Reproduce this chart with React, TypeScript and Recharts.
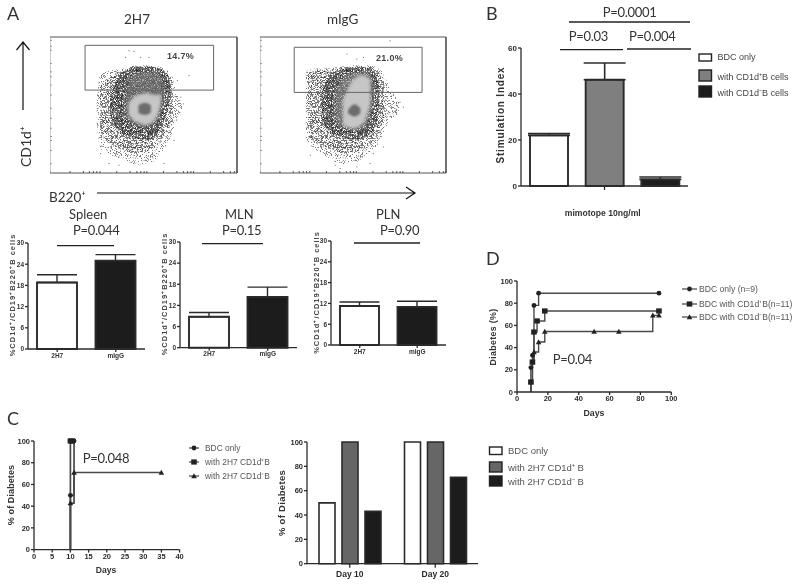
import React from 'react';
import { BarChart, Bar, Cell, ErrorBar, XAxis, YAxis, ComposedChart, Line, Area, Scatter, ReferenceArea } from 'recharts';

// ---------- Panel A: flow plots (channel units, envelopes)
const flowTicksX = [0, 60, 100, 118, 130, 140, 150, 200, 240, 260, 272, 282, 290, 340, 380, 400, 412, 422, 430, 480, 520, 540, 552, 560];
const flowTicksY = [28, 68, 98, 110, 135, 165, 195, 235, 265, 290, 305, 330, 370, 382, 400];
const leftOuter = [{ x: 140, b: [150, 220] }, { x: 150, b: [75, 295] }, { x: 180, b: [55, 308] }, { x: 220, b: [40, 315] }, { x: 260, b: [25, 325] }, { x: 300, b: [30, 325] }, { x: 340, b: [70, 315] }, { x: 365, b: [120, 295] }, { x: 380, b: [160, 240] }, { x: 395, b: [180, 220] }];
const leftHalo = [{ x: 150, b: [120, 260] }, { x: 180, b: [90, 290] }, { x: 220, b: [70, 310] }, { x: 260, b: [60, 322] }, { x: 300, b: [70, 322] }, { x: 340, b: [110, 310] }, { x: 365, b: [160, 280] }];
const leftDark = [{ x: 180, b: [165, 228] }, { x: 205, b: [130, 290] }, { x: 235, b: [110, 312] }, { x: 290, b: [100, 320] }, { x: 330, b: [130, 315] }, { x: 355, b: [200, 290] }, { x: 362, b: [220, 250] }];
const leftMid = [{ x: 225, b: [170, 230] }, { x: 245, b: [150, 295] }, { x: 280, b: [140, 305] }, { x: 320, b: [155, 300] }, { x: 340, b: [210, 280] }];
const leftLight = [{ x: 235, b: [175, 210] }, { x: 260, b: [152, 235] }, { x: 290, b: [145, 240] }, { x: 320, b: [170, 235] }, { x: 332, b: [210, 240] }];
const leftCore = [{ x: 265, b: [180, 205] }, { x: 285, b: [175, 212] }, { x: 302, b: [182, 205] }];
const leftStray = [{ x: 225, y: 350 }, { x: 235, y: 370 }, { x: 250, y: 368 }, { x: 270, y: 350 }, { x: 295, y: 350 }, { x: 415, y: 295 }, { x: 380, y: 280 }, { x: 390, y: 230 }, { x: 398, y: 210 }, { x: 150, y: 60 }, { x: 175, y: 30 }, { x: 205, y: 50 }, { x: 205, y: 25 }, { x: 340, y: 30 }, { x: 310, y: 55 }, { x: 370, y: 100 }, { x: 355, y: 105 }];
const rightOuter = [{ x: 138, b: [100, 305] }, { x: 160, b: [75, 315] }, { x: 200, b: [50, 315] }, { x: 240, b: [30, 320] }, { x: 280, b: [30, 325] }, { x: 320, b: [55, 325] }, { x: 360, b: [95, 315] }, { x: 380, b: [140, 280] }, { x: 420, b: [180, 210] }];
const rightHalo = [{ x: 145, b: [110, 300] }, { x: 175, b: [85, 310] }, { x: 220, b: [70, 313] }, { x: 260, b: [60, 318] }, { x: 310, b: [70, 322] }, { x: 350, b: [110, 312] }, { x: 375, b: [170, 270] }];
const rightDark = [{ x: 185, b: [160, 240] }, { x: 210, b: [125, 295] }, { x: 240, b: [110, 310] }, { x: 280, b: [100, 317] }, { x: 320, b: [110, 317] }, { x: 350, b: [150, 300] }, { x: 360, b: [200, 250] }];
const rightMid = [{ x: 225, b: [155, 240] }, { x: 260, b: [135, 295] }, { x: 290, b: [130, 302] }, { x: 320, b: [145, 302] }, { x: 340, b: [200, 280] }];
const rightLight = [{ x: 250, b: [145, 220] }, { x: 280, b: [135, 280] }, { x: 310, b: [150, 295] }, { x: 332, b: [210, 280] }];
const rightCore = [{ x: 265, b: [180, 190] }, { x: 285, b: [170, 207] }, { x: 302, b: [180, 195] }];
const rightStray = [{ x: 390, y: 400 }, { x: 260, y: 360 }, { x: 290, y: 345 }, { x: 310, y: 350 }, { x: 400, y: 235 }, { x: 420, y: 215 }, { x: 410, y: 180 }, { x: 430, y: 200 }, { x: 150, y: 55 }, { x: 225, y: 25 }, { x: 240, y: 15 }, { x: 250, y: 30 }, { x: 290, y: 20 }, { x: 330, y: 30 }, { x: 370, y: 80 }, { x: 340, y: 60 }];

// ---------- Panel A: lymph node bars
const groupsA = ['2H7', 'mIgG'];
const spleenValues = [18.8, 25];
const spleenErrors = [2.2, 1.7];
const mlnValues = [8.8, 14.4];
const mlnErrors = [1.2, 2.8];
const plnValues = [11.25, 11];
const plnErrors = [1.15, 1.6];
const ticksA = [0, 6, 12, 18, 24, 30];

// ---------- Panel B
const groupsB = ['BDC only', 'with CD1d⁺B cells', 'with CD1d⁻B cells'];
const stimValues = [22, 46.2, 2.9];
const stimErrors = [0.8, 7.3, 1];
const ticksB = [0, 20, 40, 60];

// ---------- Panel C
const cBdc = [{ x: 10, y: 0 }, { x: 10, y: 50 }, { x: 11, y: 100 }];
const cPos = [{ x: 10, y: 0 }, { x: 10, y: 100 }, { x: 10.5, y: 100 }];
const cNeg = [{ x: 10, y: 0 }, { x: 10, y: 42.8 }, { x: 11, y: 71 }, { x: 35, y: 71 }];
const ticksCx = [0, 5, 10, 15, 20, 25, 30, 35, 40];
const ticks100 = [0, 20, 40, 60, 80, 100];
const days = ['Day 10', 'Day 20'];
const diabBdc = [50, 100];
const diabPos = [100, 100];
const diabNeg = [43, 71];

// ---------- Panel D
const dBdc = [{ x: 9, y: 0 }, { x: 9, y: 22 }, { x: 10, y: 33 }, { x: 11, y: 78 }, { x: 14, y: 89 }, { x: 92, y: 89 }];
const dPos = [{ x: 9, y: 0 }, { x: 9, y: 9 }, { x: 10, y: 27 }, { x: 11, y: 54 }, { x: 13, y: 64 }, { x: 18, y: 73 }, { x: 92, y: 73 }];
const dNeg = [{ x: 9, y: 0 }, { x: 9, y: 9 }, { x: 10, y: 27 }, { x: 11, y: 36 }, { x: 14, y: 45 }, { x: 18, y: 54.5 }, { x: 50, y: 54.5 }, { x: 66, y: 54.5 }, { x: 88, y: 69 }, { x: 92, y: 69 }];
const ticksDx = [0, 20, 40, 60, 80, 100];

const INK = '#2b2b2b';
const SANS = '"Liberation Sans", Arial, sans-serif';
const LATO = 'Lato, "Noto Sans", sans-serif';
const noLabel = () => '';

const Mark = ({ kind, cx, cy, s = 1, fill = '#222' }: any) => {
  if (kind === 'circle') return <circle cx={cx} cy={cy} r={2.4 * s} fill={fill} />;
  if (kind === 'square') return <rect x={cx - 2.8 * s} y={cy - 2.6 * s} width={5.6 * s} height={5.2 * s} fill={fill} />;
  return <path d={`M${cx} ${cy - 2.8 * s}L${cx + 2.8 * s} ${cy + 2.2 * s}L${cx - 2.8 * s} ${cy + 2.2 * s}Z`} fill={fill} />;
};

const dotOf = (kind: string) => (p: any) => {
  if (p.payload.y === 0) return <g key={p.key ?? p.index} />;
  return <g key={p.key ?? p.index}><Mark kind={kind} cx={p.cx} cy={p.cy} /></g>;
};

const Flow = ({ box, bands, stray, gate, midFill }: any) => {
  const [L, T, R, B] = box;
  return (
    <div style={{ position: 'absolute', left: L, top: T - 2, width: R - L + 2, height: B - T + 6 }}>
      <ComposedChart width={R - L + 2} height={B - T + 6} margin={{ top: 2, right: 2, left: 0, bottom: 4 }}>
        <XAxis type="number" dataKey="x" domain={[0, 560]} ticks={flowTicksX} height={0.01} tickFormatter={noLabel} tickSize={2} stroke="#555" interval={0} mirror />
        <YAxis type="number" domain={[0, 410]} ticks={flowTicksY} width={0.01} tickFormatter={noLabel} tickSize={2} stroke="#999" interval={0} mirror />
        <XAxis xAxisId="top" orientation="top" type="number" domain={[0, 560]} height={0.01} tick={false} stroke="#555" />
        <YAxis yAxisId="right" orientation="right" type="number" domain={[0, 410]} width={0.01} tick={false} stroke="#444" strokeWidth={1.5} />
        <Area data={bands[0]} dataKey="b" type="monotone" stroke="none" fill="#222" filter="url(#speckSparse)" isAnimationActive={false} dot={false} activeDot={false} />
        <Area data={bands[1]} dataKey="b" type="monotone" stroke="none" fill="#1a1a1a" filter="url(#speckMedium)" isAnimationActive={false} dot={false} activeDot={false} />
        <Area data={bands[2]} dataKey="b" type="monotone" stroke="none" fill="#111" filter="url(#speckDense)" isAnimationActive={false} dot={false} activeDot={false} />
        <Area data={bands[3]} dataKey="b" type="monotone" stroke="none" fill={midFill} filter="url(#soft)" isAnimationActive={false} dot={false} activeDot={false} />
        <Area data={bands[4]} dataKey="b" type="monotone" stroke="none" fill="#c6c6c6" fillOpacity={1} filter="url(#soft)" isAnimationActive={false} dot={false} activeDot={false} />
        <Area data={bands[5]} dataKey="b" type="monotone" stroke="none" fill="#6c6c6c" fillOpacity={1} filter="url(#softer)" isAnimationActive={false} dot={false} activeDot={false} />
        <Scatter data={stray} dataKey="y" fill="#666" isAnimationActive={false} shape={(p: any) => <rect x={p.cx} y={p.cy} width={1} height={1} fill="#666" />} />
        <ReferenceArea x1={gate[0]} x2={gate[1]} y1={gate[2]} y2={gate[3]} fill="none" stroke="#666" strokeWidth={1} />
      </ComposedChart>
    </div>
  );
};

const SmallBars = ({ box, vals, errs, barSize }: any) => {
  const [L, T, R, B] = box;
  const data = groupsA.map((g, i) => ({ g, v: vals[i], e: [0, errs[i]] }));
  return (
    <div style={{ position: 'absolute', left: L - 22, top: T - 6, width: R - L + 24, height: B - T + 20 }}>
      <BarChart width={R - L + 24} height={B - T + 20} data={data} margin={{ top: 6, right: 2, left: 0, bottom: 0 }}>
        <XAxis dataKey="g" height={14} stroke={INK} strokeWidth={1.3} tickSize={3} tickMargin={1} interval={0} tick={{ fontSize: 6.5, fontWeight: 700, fontFamily: SANS, fill: '#333' }} />
        <YAxis domain={[0, 30]} ticks={ticksA} width={22} stroke={INK} strokeWidth={1.3} tickSize={3} tickMargin={1} interval={0} tick={{ fontSize: 6.5, fontWeight: 700, fontFamily: SANS, fill: '#333' }} />
        <Bar dataKey="v" barSize={barSize} stroke={INK} strokeWidth={1.9} isAnimationActive={false}>
          <Cell fill="#fff" />
          <Cell fill="#1c1c1c" />
          <ErrorBar dataKey="e" direction="y" width={20} stroke={INK} strokeWidth={1.4} isAnimationActive={false} />
        </Bar>
      </BarChart>
    </div>
  );
};

const Txt = ({ x, y, size = 10, f = SANS, w = 400, c = '#333', ls = 0, rot, anchor = 'start', children }: any) => (
  <text
    x={x}
    y={y}
    fontSize={size}
    fontFamily={f}
    fontWeight={w}
    fill={c}
    letterSpacing={ls}
    textAnchor={anchor}
    transform={rot ? `rotate(${rot} ${x} ${y})` : undefined}
  >
    {children}
  </text>
);

const HL = ({ x1, x2, y, w = 1.3 }: any) => <line x1={x1} x2={x2} y1={y} y2={y} stroke="#222" strokeWidth={w} />;

const Swatch = ({ x, y, w, h, fill }: any) => <rect x={x} y={y} width={w} height={h} fill={fill} stroke="#222" strokeWidth={1.4} />;

const LegMark = ({ x1, x2, y, kind }: any) => (
  <g>
    <line x1={x1} x2={x2} y1={y} y2={y} stroke="#444" strokeWidth={1.2} />
    <Mark kind={kind} cx={(x1 + x2) / 2} cy={y} />
  </g>
);

const P_LS = -0.3;

const Overlay = () => (
  <svg width={800} height={586} style={{ position: 'absolute', left: 0, top: 0, pointerEvents: 'none' }}>
    {/* panel letters */}
    <Txt x={7} y={20} size={18} f={LATO}>A</Txt>
    <Txt x={486} y={20} size={18} f={LATO}>B</Txt>
    <Txt x={7} y={425} size={18} f={LATO}>C</Txt>
    <Txt x={486} y={265} size={18} f={LATO}>D</Txt>

    {/* A */}
    <Txt x={124} y={24} size={13.5} f={LATO}>2H7</Txt>
    <Txt x={327} y={24} size={13.5} f={LATO}>mIgG</Txt>
    <Txt x={167} y={59} size={9} w={700} c="#444" ls={0.3}>14.7%</Txt>
    <Txt x={376} y={61} size={9} w={700} c="#444" ls={0.3}>21.0%</Txt>
    <path d="M23 110V42M16.5 50L23 42L29.5 50" fill="none" stroke="#111" strokeWidth={1.2} />
    <Txt x={31} y={167} size={14} f={LATO} rot={-90}>CD1d⁺</Txt>
    <Txt x={49} y={202} size={13.5} f={LATO}>B220⁺</Txt>
    <path d="M97 193H415M406 187L415 193L406 199" fill="none" stroke="#111" strokeWidth={1.2} />

    <Txt x={69} y={219} size={13} f={LATO}>Spleen</Txt>
    <Txt x={73} y={235} size={13} ls={P_LS} f={LATO}>P=0.044</Txt>
    <HL x1={57} x2={114} y={245.7} />
    <Txt x={225} y={219} size={13} f={LATO}>MLN</Txt>
    <Txt x={222} y={235} size={13} ls={P_LS} f={LATO}>P=0.15</Txt>
    <HL x1={202} x2={263} y={243.7} />
    <Txt x={376} y={219} size={13} f={LATO}>PLN</Txt>
    <Txt x={380} y={235} size={13} ls={P_LS} f={LATO}>P=0.90</Txt>
    <HL x1={354} x2={420} y={243} />
    <Txt x={15} y={295} size={7.5} w={700} ls={1} c="#444" anchor="middle" rot={-90}>%CD1d⁺/CD19⁺B220⁺B cells</Txt>
    <Txt x={166.5} y={294} size={7.5} w={700} ls={1} c="#444" anchor="middle" rot={-90}>%CD1d⁺/CD19⁺B220⁺B cells</Txt>
    <Txt x={318.5} y={292.5} size={7.5} w={700} ls={1} c="#444" anchor="middle" rot={-90}>%CD1d⁺/CD19⁺B220⁺B cells</Txt>

    {/* B */}
    <Txt x={602.7} y={17} size={13} ls={P_LS} f={LATO}>P=0.0001</Txt>
    <HL x1={569} x2={690} y={22} />
    <Txt x={568.7} y={41} size={13} ls={P_LS} f={LATO}>P=0.03</Txt>
    <HL x1={560} x2={623} y={49.7} />
    <Txt x={629} y={41} size={13} ls={P_LS} f={LATO}>P=0.004</Txt>
    <HL x1={627} x2={691} y={49} />
    <Txt x={503.5} y={115} size={10} w={700} ls={0.8} c="#333" anchor="middle" rot={-90}>Stimulation Index</Txt>
    <Txt x={602.7} y={216} size={8.6} w={700} c="#333" anchor="middle">mimotope 10ng/ml</Txt>
    <Swatch x={699} y={54} w={12.5} h={7} fill="#fff" />
    <Swatch x={699} y={70} w={12.5} h={11} fill="#7f7f7f" />
    <Swatch x={699} y={86} w={12.5} h={11} fill="#1c1c1c" />
    <Txt x={717.5} y={60} size={9} c="#444">BDC only</Txt>
    <Txt x={717.5} y={80} size={9} c="#444">with CD1d⁺B cells</Txt>
    <Txt x={717.5} y={96} size={9} c="#444">with CD1d⁻B cells</Txt>

    {/* C */}
    <Txt x={14} y={495} size={9} w={700} ls={0.1} c="#333" anchor="middle" rot={-90}>% of Diabetes</Txt>
    <Txt x={106} y={573} size={8.6} w={700} c="#333" anchor="middle">Days</Txt>
    <Txt x={82.7} y={463} size={13} ls={P_LS} f={LATO}>P=0.048</Txt>
    <LegMark x1={189} x2={199} y={448} kind="circle" />
    <LegMark x1={189} x2={199} y={462} kind="square" />
    <LegMark x1={189} x2={199} y={476} kind="triangle" />
    <Txt x={205} y={451} size={8.4} c="#555">BDC only</Txt>
    <Txt x={205} y={465} size={8.4} c="#555">with 2H7 CD1d⁺B</Txt>
    <Txt x={205} y={479} size={8.4} c="#555">with 2H7 CD1d⁻B</Txt>

    <Txt x={284.5} y={503} size={9.5} w={700} ls={0.3} c="#333" anchor="middle" rot={-90}>% of Diabetes</Txt>
    <Swatch x={489.5} y={447} w={12.5} h={7.5} fill="#fff" />
    <Swatch x={489.5} y={462} w={12.5} h={10} fill="#666" />
    <Swatch x={489.5} y={476} w={12.5} h={10} fill="#1c1c1c" />
    <Txt x={508} y={454} size={9.5} c="#555">BDC only</Txt>
    <Txt x={508} y={471} size={9.5} c="#555">with 2H7 CD1d⁺ B</Txt>
    <Txt x={508} y={485} size={9.5} c="#555">with 2H7 CD1d⁻ B</Txt>

    {/* D */}
    <Txt x={496} y={337} size={8.8} w={700} ls={0.35} c="#333" anchor="middle" rot={-90}>Diabetes (%)</Txt>
    <Txt x={594} y={416} size={8.8} w={700} c="#333" anchor="middle">Days</Txt>
    <Txt x={552.7} y={364} size={13} ls={P_LS} f={LATO}>P=0.04</Txt>
    <LegMark x1={682} x2={697} y={289} kind="circle" />
    <LegMark x1={682} x2={697} y={304} kind="square" />
    <LegMark x1={682} x2={697} y={317} kind="triangle" />
    <Txt x={699} y={292} size={8.6} c="#555">BDC only (n=9)</Txt>
    <Txt x={699} y={307} size={8.6} c="#555">BDC with CD1d⁺B(n=11)</Txt>
    <Txt x={699} y={320} size={8.6} c="#555">BDC with CD1d⁻B(n=11)</Txt>
  </svg>
);

const axisTick = { fontSize: 7.5, fontWeight: 700, fontFamily: SANS, fill: '#2b2b2b' };

const StepPlot = ({ box, xMax, xTicks, series, w = 1.4 }: any) => {
  const [L, T, R, B] = box;
  const width = R - L + 30;
  const height = B - T + 22;
  return (
    <div style={{ position: 'absolute', left: L - 24, top: T - 6, width, height }}>
      <ComposedChart width={width} height={height} margin={{ top: 6, right: 6, left: 0, bottom: 0 }}>
        <XAxis type="number" dataKey="x" domain={[0, xMax]} ticks={xTicks} interval={0} height={16} stroke={INK} strokeWidth={1.3} tickSize={3} tickMargin={1} tick={axisTick} />
        <YAxis type="number" dataKey="y" domain={[0, 100]} ticks={ticks100} interval={0} width={24} stroke={INK} strokeWidth={1.3} tickSize={3} tickMargin={1} tick={axisTick} />
        {series.map((s: any) => (
          <Line key={s.name} name={s.name} data={s.data} dataKey="y" type="stepAfter" stroke="#4a4a4a" strokeWidth={w} dot={dotOf(s.kind)} activeDot={false} isAnimationActive={false} />
        ))}
      </ComposedChart>
    </div>
  );
};

export default function App() {
  const stimData = groupsB.map((g, i) => ({ g, v: stimValues[i], e: [0, stimErrors[i]] }));
  const dayData = days.map((d, i) => ({ d, bdc: diabBdc[i], pos: diabPos[i], neg: diabNeg[i] }));
  return (
    <div style={{ position: 'absolute', left: 0, top: 0, width: 800, height: 586, background: '#fff', overflow: 'hidden', filter: 'blur(0.45px)' }}>
      <svg width={0} height={0} style={{ position: 'absolute' }}>
        <defs>
          <filter id="speckSparse" x="-5%" y="-5%" width="110%" height="110%" colorInterpolationFilters="sRGB">
            <feTurbulence type="fractalNoise" baseFrequency="1.2" numOctaves={1} seed={4} result="n" />
            <feColorMatrix in="n" type="matrix" values="0 0 0 0 0  0 0 0 0 0  0 0 0 0 0  14 0 0 0 -7.7" result="t" />
            <feComposite in="SourceGraphic" in2="t" operator="in" />
          </filter>
          <filter id="speckMedium" x="-5%" y="-5%" width="110%" height="110%" colorInterpolationFilters="sRGB">
            <feTurbulence type="fractalNoise" baseFrequency="1.2" numOctaves={1} seed={6} result="n" />
            <feColorMatrix in="n" type="matrix" values="0 0 0 0 0  0 0 0 0 0  0 0 0 0 0  14 0 0 0 -7" result="t" />
            <feComposite in="SourceGraphic" in2="t" operator="in" />
          </filter>
          <filter id="speckDense" x="-8%" y="-8%" width="116%" height="116%" colorInterpolationFilters="sRGB">
            <feTurbulence type="fractalNoise" baseFrequency="1.1" numOctaves={1} seed={9} result="n" />
            <feColorMatrix in="n" type="matrix" values="0 0 0 0 0  0 0 0 0 0  0 0 0 0 0  14 0 0 0 -6" result="t" />
            <feComposite in="SourceGraphic" in2="t" operator="in" result="s" />
            <feGaussianBlur in="s" stdDeviation="0.5" />
          </filter>
          <filter id="soft" x="-25%" y="-25%" width="150%" height="150%">
            <feGaussianBlur stdDeviation="1.8" />
          </filter>
          <filter id="softer" x="-40%" y="-40%" width="180%" height="180%">
            <feGaussianBlur stdDeviation="1.2" />
          </filter>
        </defs>
      </svg>

      <Flow box={[50, 37, 237, 173]} bands={[leftOuter, leftHalo, leftDark, leftMid, leftLight, leftCore]} stray={leftStray} gate={[105, 490, 250, 385]} midFill="#777" />
      <Flow box={[260, 37, 446, 173]} bands={[rightOuter, rightHalo, rightDark, rightMid, rightLight, rightCore]} stray={rightStray} gate={[103, 488, 243, 379]} midFill="#888" />

      <SmallBars box={[28, 243, 145, 349]} vals={spleenValues} errs={spleenErrors} barSize={40} />
      <SmallBars box={[180, 242.3, 297, 348]} vals={mlnValues} errs={mlnErrors} barSize={40} />
      <SmallBars box={[331, 240.7, 446, 344.7]} vals={plnValues} errs={plnErrors} barSize={39} />

      <div style={{ position: 'absolute', left: 495, top: 41.7, width: 195, height: 160 }}>
        <BarChart width={195} height={160} data={stimData} margin={{ top: 6, right: 2, left: 0, bottom: 0 }}>
          <XAxis dataKey="g" ticks={[groupsB[1]]} interval={0} height={16} stroke={INK} strokeWidth={1.3} tickSize={4} tickFormatter={noLabel} />
          <YAxis domain={[0, 60]} ticks={ticksB} interval={0} width={26} stroke={INK} strokeWidth={1.3} tickSize={3} tickMargin={1} tick={{ ...axisTick, fontSize: 8 }} />
          <Bar dataKey="v" barSize={38} stroke={INK} strokeWidth={1.9} isAnimationActive={false}>
            <Cell fill="#fff" />
            <Cell fill="#7f7f7f" />
            <Cell fill="#1c1c1c" />
            <ErrorBar dataKey="e" direction="y" width={21} stroke={INK} strokeWidth={1.6} isAnimationActive={false} />
          </Bar>
        </BarChart>
      </div>

      <StepPlot
        box={[33.7, 440.7, 179.3, 549.3]}
        xMax={40}
        xTicks={ticksCx}
        w={1.7}
        series={[
          { name: 'BDC only', data: cBdc, kind: 'circle' },
          { name: 'with 2H7 CD1d⁺B', data: cPos, kind: 'square' },
          { name: 'with 2H7 CD1d⁻B', data: cNeg, kind: 'triangle' },
        ]}
      />

      <div style={{ position: 'absolute', left: 280.7, top: 436.3, width: 199, height: 148 }}>
        <BarChart width={199} height={148} data={dayData} barSize={16} barGap={7} margin={{ top: 6, right: 2, left: 0, bottom: 0 }}>
          <XAxis dataKey="d" height={20.3} interval={0} stroke={INK} strokeWidth={1.3} tickSize={4} tickMargin={3} tick={{ ...axisTick, fontSize: 8.5 }} />
          <YAxis domain={[0, 100]} ticks={ticks100} interval={0} width={26} stroke={INK} strokeWidth={1.3} tickSize={3} tickMargin={1} tick={axisTick} />
          <Bar dataKey="bdc" fill="#fff" stroke={INK} strokeWidth={1.6} isAnimationActive={false} />
          <Bar dataKey="pos" fill="#666" stroke={INK} strokeWidth={1.6} isAnimationActive={false} />
          <Bar dataKey="neg" fill="#1c1c1c" stroke={INK} strokeWidth={1.6} isAnimationActive={false} />
        </BarChart>
      </div>

      <StepPlot
        box={[517, 281.3, 671.3, 392.3]}
        xMax={100}
        xTicks={ticksDx}
        w={1.4}
        series={[
          { name: 'BDC only (n=9)', data: dBdc, kind: 'circle' },
          { name: 'BDC with CD1d⁺B(n=11)', data: dPos, kind: 'square' },
          { name: 'BDC with CD1d⁻B(n=11)', data: dNeg, kind: 'triangle' },
        ]}
      />

      <Overlay />
    </div>
  );
}
